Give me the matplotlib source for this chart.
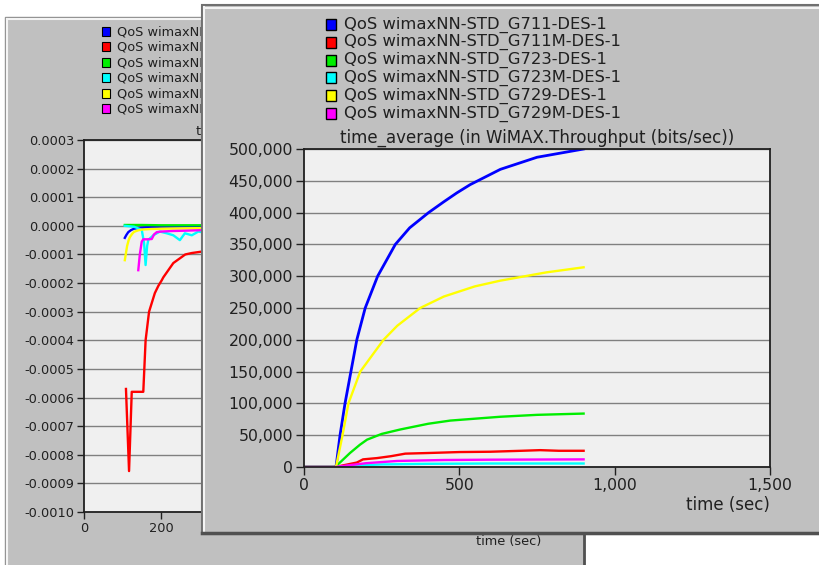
import numpy as np
import matplotlib
matplotlib.use('Agg')
import matplotlib.pyplot as plt
from matplotlib.patches import Rectangle
from matplotlib.ticker import FuncFormatter, MultipleLocator

plt.rcParams['font.family'] = ['DejaVu Sans']

# %% data - series names and colours
series = ['QoS wimaxNN-STD_G711-DES-1', 'QoS wimaxNN-STD_G711M-DES-1',
          'QoS wimaxNN-STD_G723-DES-1', 'QoS wimaxNN-STD_G723M-DES-1',
          'QoS wimaxNN-STD_G729-DES-1', 'QoS wimaxNN-STD_G729M-DES-1']
colors = ['#0000ff', '#ff0000', '#00ee00', '#00ffff', '#ffff00', '#ff00ff']

# front window: throughput (bits/sec) vs time (sec)
t_g711 = [0, 100, 103, 116, 132, 151, 170, 197, 237, 294, 340, 401, 450, 492, 535, 632, 750, 900]
v_g711 = [0, 0, 0, 50000, 100000, 150000, 200000, 250000, 300000, 350000, 376000, 400000,
          417000, 431000, 444000, 468000, 487000, 500000]
t_g711m = [0, 100, 120, 150, 170, 190, 235, 280, 326, 400, 500, 600, 700, 760, 820, 900]
v_g711m = [0, 0, 2000, 5000, 7000, 12000, 14000, 17000, 21000, 22000, 23500, 24000, 25500,
           26500, 25500, 25500]
t_g723 = [0, 100, 120, 148, 180, 203, 250, 310, 400, 471, 632, 750, 900]
v_g723 = [0, 0, 9000, 22000, 35000, 43000, 52000, 59000, 68000, 73000, 79000, 82000, 84000]
t_g723m = [0, 100, 150, 250, 400, 600, 900]
v_g723m = [0, 0, 2000, 4000, 5000, 5500, 5500]
t_g729 = [0, 100, 103, 124, 143, 181, 256, 300, 374, 450, 550, 632, 780, 900]
v_g729 = [0, 0, 0, 50000, 100000, 150000, 200000, 222000, 250000, 268000, 284000, 293000,
          306000, 314000]
t_g729m = [0, 100, 150, 200, 300, 450, 600, 900]
v_g729m = [0, 0, 3000, 6000, 9500, 11000, 11500, 12000]

front_t = [t_g711, t_g711m, t_g723, t_g723m, t_g729, t_g729m]
front_v = [v_g711, v_g711m, v_g723, v_g723m, v_g729, v_g729m]

# back window (mostly hidden): small negative values vs time
bt_g711 = [106, 110, 115, 122, 130, 145, 160, 200, 250, 306]
bv_g711 = [-4.2e-5, -3.2e-5, -2.2e-5, -1.5e-5, -1e-5, -7e-6, -5e-6, -3e-6, -2e-6, -1e-6]
bt_g711m = [109, 117, 124, 135, 154, 160, 169, 184, 193, 202, 206, 219, 232, 263, 280, 306]
bv_g711m = [-5.7e-4, -8.57e-4, -5.8e-4, -5.8e-4, -5.8e-4, -4e-4, -3e-4, -2.35e-4, -2.1e-4,
            -1.9e-4, -1.8e-4, -1.55e-4, -1.3e-4, -1e-4, -9.5e-5, -9e-5]
bt_g723 = [106, 150, 200, 306]
bv_g723 = [3e-6, 3e-6, 2e-6, 2e-6]
bt_g723m = [106, 130, 150, 156, 160, 164, 167, 180, 197, 215, 232, 249, 262, 280, 297, 306]
bv_g723m = [0, -3e-6, -1.4e-5, -6e-5, -1.37e-4, -7e-5, -4.9e-5, -3.3e-5, -2e-5, -2.6e-5,
            -3.3e-5, -5e-5, -2.6e-5, -3.3e-5, -2e-5, -2.2e-5]
bt_g729 = [106, 109, 112, 116, 119, 125, 130, 140, 150, 175, 200, 250, 306]
bv_g729 = [-1.2e-4, -9.5e-5, -7e-5, -5e-5, -4e-5, -2.8e-5, -2.1e-5, -1.6e-5, -1.3e-5,
           -1.1e-5, -1e-5, -9e-6, -8e-6]
bt_g729m = [141, 145, 150, 154, 165, 176, 182, 189, 200, 230, 260, 306]
bv_g729m = [-1.55e-4, -1e-4, -5.5e-5, -4.7e-5, -4.7e-5, -4.6e-5, -3e-5, -2.2e-5, -2e-5,
            -1.8e-5, -1.7e-5, -1.5e-5]

back_t = [bt_g711, bt_g711m, bt_g723, bt_g723m, bt_g729, bt_g729m]
back_v = [bv_g711, bv_g711m, bv_g723, bv_g723m, bv_g729, bv_g729m]

front_title = 'time_average (in WiMAX.Throughput (bits/sec))'
back_title = 'time_average'   # the rest is hidden behind the front window
xlabel = 'time (sec)'

# %% layout helpers (pixel coordinates, origin top-left)
W, H = 820, 565
WIN = '#c0c0c0'
PLOT_BG = '#f0f0f0'
GRID = '#808080'


def fig_rect(x0, y0, x1, y1):
    return [x0 / W, 1 - y1 / H, (x1 - x0) / W, (y1 - y0) / H]


def canvas(fig, z):
    ax = fig.add_axes([0, 0, 1, 1], zorder=z)
    ax.set_xlim(0, W)
    ax.set_ylim(H, 0)
    ax.axis('off')
    ax.patch.set_alpha(0)
    return ax


def style_plot(ax, fs, tick_len):
    ax.set_facecolor(PLOT_BG)
    for s in ax.spines.values():
        s.set_color('#202020')
        s.set_linewidth(1.3)
    ax.grid(axis='y', color=GRID, lw=1.0)
    ax.set_axisbelow(True)
    ax.tick_params(direction='out', length=tick_len, width=1, color='#202020',
                   labelsize=fs, labelcolor='#202020', pad=2)


fig = plt.figure(figsize=(W / 100, H / 100), dpi=100)
fig.patch.set_facecolor('white')

# %% back window
bg = canvas(fig, 0)
bg.add_patch(Rectangle((5, 17), 579, 560, facecolor=WIN, edgecolor='#909090', lw=1))
bg.plot([7, 7], [19, 565], color='#f4f4f4', lw=1.5)
bg.plot([7, 583], [19, 19], color='#f4f4f4', lw=1.5)
bg.plot([584, 584], [17, 565], color='#505050', lw=2)
for i, (name, c) in enumerate(zip(series, colors)):
    y = 31.5 + 15.4 * i
    bg.add_patch(Rectangle((102, y - 4.5), 8.5, 9, facecolor=c, edgecolor='black', lw=0.8))
    bg.text(117, y, name, fontsize=9.3, va='center', ha='left', color='#202020')
bg.text(196, 131, back_title, fontsize=9.3, va='center', ha='left', color='#202020')
bg.text(509, 542, xlabel, fontsize=9.3, va='center', ha='center', color='#202020')

axb = fig.add_axes(fig_rect(84, 140, 560, 512), zorder=1)
style_plot(axb, 9.3, 5)
for t, v, c in zip(back_t, back_v, colors):
    axb.plot(t, v, color=c, lw=1.7)
axb.set_xlim(0, (560 - 84) / 0.385)
axb.set_ylim(-0.0010, 0.0003)
axb.yaxis.set_major_locator(MultipleLocator(0.0001))
axb.xaxis.set_major_locator(MultipleLocator(200))
axb.yaxis.set_major_formatter(FuncFormatter(lambda v, p: f'{v:.4f}' if abs(v) > 1e-9 else '0.0000'))

# %% front window
fg = canvas(fig, 2)
fg.add_patch(Rectangle((202, 5), 640, 529, facecolor=WIN, edgecolor='#707070', lw=1.5))
fg.plot([204.5, 204.5], [7, 531], color='#f4f4f4', lw=1.5)
fg.plot([204.5, 830], [7.5, 7.5], color='#f4f4f4', lw=1.5)
fg.plot([202, 830], [533, 533], color='#505050', lw=2.5)
for i, (name, c) in enumerate(zip(series, colors)):
    y = 24.5 + 17.8 * i
    fg.add_patch(Rectangle((326, y - 5.5), 10, 11, facecolor=c, edgecolor='black', lw=1))
    fg.text(344, y, name, fontsize=11.8, va='center', ha='left', color='#202020')

ax = fig.add_axes(fig_rect(304, 149, 770, 467), zorder=3)
style_plot(ax, 11.3, 6)
for t, v, c in zip(front_t, front_v, colors):
    ax.plot(t, v, color=c, lw=2.0 if c == '#0000ff' else 1.7)
ax.set_xlim(0, 1500)
ax.set_ylim(0, 500000)
ax.yaxis.set_major_locator(MultipleLocator(50000))
ax.xaxis.set_major_locator(MultipleLocator(500))
ax.yaxis.set_major_formatter(FuncFormatter(lambda v, p: f'{v:,.0f}'))
ax.xaxis.set_major_formatter(FuncFormatter(lambda v, p: f'{v:,.0f}'))
ax.set_title(front_title, fontsize=12, color='#202020', pad=4.5)
ax.set_xlabel(xlabel, fontsize=12, color='#202020', loc='right', labelpad=2)

fig.savefig('out.png', dpi=100, facecolor=fig.get_facecolor())
